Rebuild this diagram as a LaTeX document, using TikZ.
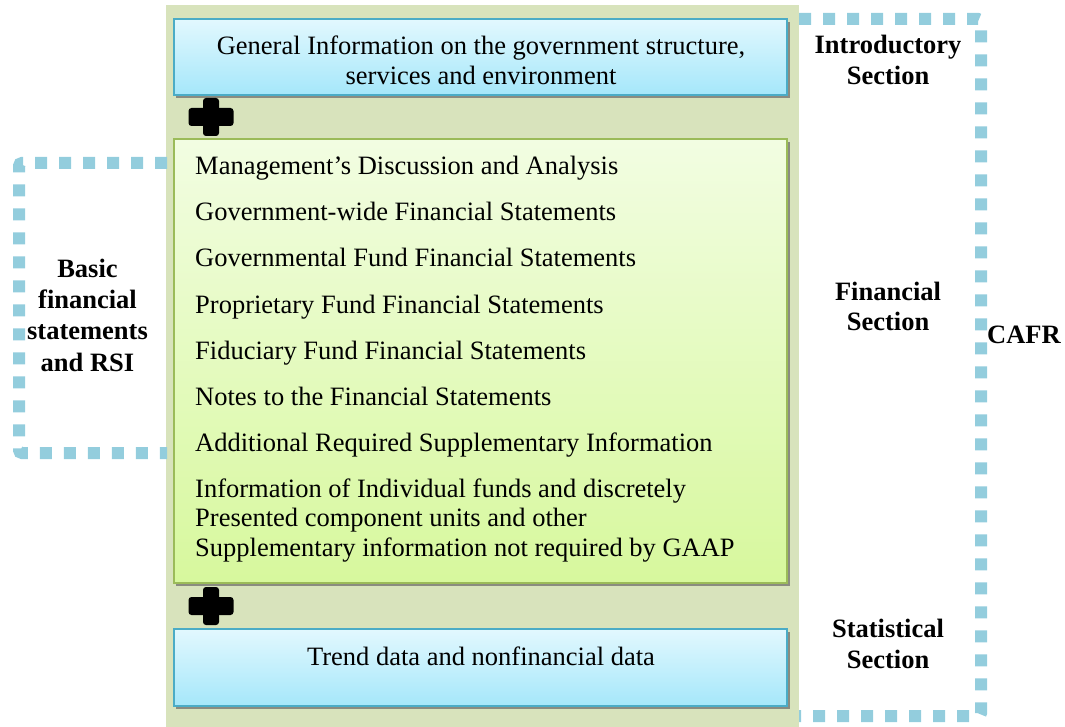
\documentclass[tikz,border=0pt]{standalone}
\usepackage{fontspec}
\setmainfont{Liberation Serif}
\definecolor{bgolive}{HTML}{D8E3BC}
\definecolor{bluetop}{HTML}{E2F8FE}
\definecolor{bluebot}{HTML}{A5E7FA}
\definecolor{blueedge}{HTML}{4BACC6}
\definecolor{greentop}{HTML}{F2FDE2}
\definecolor{greenbot}{HTML}{D7F89D}
\definecolor{greenedge}{HTML}{9BBB59}
\definecolor{dotblue}{HTML}{93CDDD}
\definecolor{shadowgray}{HTML}{8A8C80}
\tikzset{
  bluebox/.style={draw=blueedge, line width=1.8pt, top color=bluetop, bottom color=bluebot, minimum width=613pt, inner sep=0pt},
  greenbox/.style={draw=greenedge, line width=1.8pt, top color=greentop, bottom color=greenbot, minimum width=613pt, inner sep=0pt},
  txt/.style={inner sep=0pt, font=\fontsize{26.5}{29.5}\selectfont},
  lbl/.style={inner sep=0pt, font=\bfseries\fontsize{26.5}{31}\selectfont, anchor=base},
  dotline/.style={draw=dotblue, line width=12pt, dash pattern=on 12pt off 12pt, rounded corners=3pt},
  plussign/.pic={
    \fill[black, rounded corners=3pt] (-8,-19) rectangle (8,19);
    \fill[black, rounded corners=3pt] (-22.5,-9) rectangle (22.5,9);
  }
}
\begin{document}
\begin{tikzpicture}[x=1pt, y=-1pt]
\useasboundingbox (0,0) rectangle (1065,727);
% background panel
\fill[bgolive] (166,5) rectangle (799,727);
% dotted brackets
\coordinate (lb1) at (167,163);
\coordinate (lb2) at (19,163);
\coordinate (lb3) at (19,453);
\coordinate (lb4) at (167,453);
\draw[dotline] (lb1) -- (lb2) -- (lb3) -- (lb4);
\coordinate (rb1) at (799,19);
\coordinate (rb2) at (981,19);
\coordinate (rb3) at (981,716);
\coordinate (rb4) at (799,716);
\draw[dotline] (rb1) -- (rb2) -- (rb3) -- (rb4);
% shadows
\fill[shadowgray] (176,22) rectangle (790,98);
\fill[shadowgray] (176,142) rectangle (790,586);
\fill[shadowgray] (176,632) rectangle (790,709);
% boxes
\node[bluebox, minimum height=76pt] (intro) at (480.5,57) {};
\node[greenbox, minimum height=444pt] (fin) at (480.5,361) {};
\node[bluebox, minimum height=77pt] (stat) at (480.5,667.5) {};
% plus signs
\pic at (211,117) {plussign};
\pic at (211,606) {plussign};
% box texts
\node[txt, anchor=base] (introtxt) at (481,55) {\begin{tabular}[t]{@{}c@{}}General Information on the government structure,\\services and environment\end{tabular}};
\node[txt, anchor=base] (stattxt) at (481,665) {Trend data and nonfinancial data};
\node[txt, anchor=base west] (i1) at (195,175) {Management’s Discussion and Analysis};
\node[txt, anchor=base west] (i2) at (195,221) {Government-wide Financial Statements};
\node[txt, anchor=base west] (i3) at (195,267) {Governmental Fund Financial Statements};
\node[txt, anchor=base west] (i4) at (195,313) {Proprietary Fund Financial Statements};
\node[txt, anchor=base west] (i5) at (195,359) {Fiduciary Fund Financial Statements};
\node[txt, anchor=base west] (i6) at (195,405) {Notes to the Financial Statements};
\node[txt, anchor=base west] (i7) at (195,451) {Additional Required Supplementary Information};
\node[txt, anchor=base west] (i8) at (195,497) {\begin{tabular}[t]{@{}l@{}}Information of Individual funds and discretely\\Presented component units and other\\Supplementary information not required by GAAP\end{tabular}};
% side labels
\node[lbl] (lintro) at (888,54) {\begin{tabular}[t]{@{}c@{}}Introductory\\Section\end{tabular}};
\node[lbl] (lfin) at (888,300) {\begin{tabular}[t]{@{}c@{}}Financial\\Section\end{tabular}};
\node[lbl] (lstat) at (888,637) {\begin{tabular}[t]{@{}c@{}}Statistical\\Section\end{tabular}};
\node[lbl] (lbasic) at (87.5,278) {\begin{tabular}[t]{@{}c@{}}Basic\\financial\\statements\\and RSI\end{tabular}};
\node[lbl, anchor=base west] (lcafr) at (987,343) {CAFR};
\end{tikzpicture}
\end{document}
